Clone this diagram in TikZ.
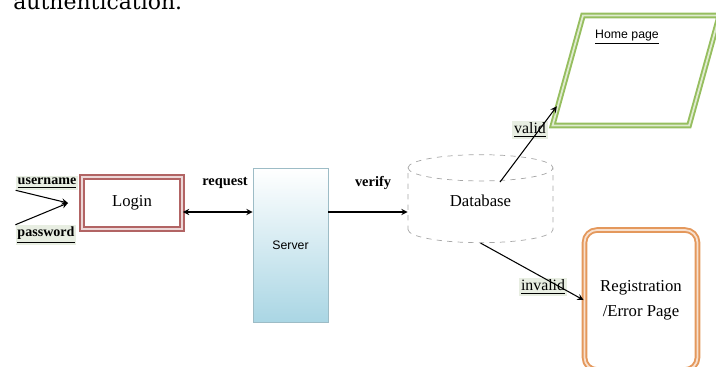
\documentclass[tikz,border=0pt]{standalone}
\usepackage{fontspec}
\setmainfont{Liberation Serif}
\newfontfamily\labelsans{Liberation Sans}
\newfontfamily\pageserif{DejaVu Serif}
\usepackage{tikz}
\usetikzlibrary{shapes.geometric, arrows}
\usetikzlibrary{calc}
\definecolor{loginred}{RGB}{178,100,100}
\definecolor{homegreen}{RGB}{150,190,95}
\definecolor{errorange}{RGB}{228,152,92}
\definecolor{serverblue}{RGB}{170,214,228}
\definecolor{labshade}{RGB}{232,238,226}
\tikzstyle{arrow} = [->,>=stealth,line width=0.6pt]
\tikzstyle{twoway} = [<->,>=stealth,line width=0.6pt]
\tikzstyle{inlabel} = [font=\fontsize{8}{9}\selectfont\bfseries, fill=labshade, inner sep=1pt]
\tikzstyle{flowlabel} = [font=\fontsize{8.2}{9}\selectfont\bfseries, inner sep=1pt]
\tikzstyle{resultlabel} = [font=\fontsize{9}{10}\selectfont, fill=labshade, inner sep=1pt]
\tikzstyle{loginbox} = [rectangle, draw=loginred, line width=1.1pt, double=loginred!25, double distance=1pt, minimum width=2.0cm, minimum height=1.04cm, font=\fontsize{9.5}{11}\selectfont]
\tikzstyle{serverbox} = [rectangle, draw=serverblue!70!gray, top color=white, bottom color=serverblue, minimum width=1.5cm, minimum height=3.08cm, font=\labelsans\fontsize{7}{8}\selectfont]
\tikzstyle{database} = [cylinder, shape border rotate=90, aspect=0.36, draw=gray!70, dashed, minimum width=2.9cm, minimum height=1.76cm, font=\fontsize{9.5}{11}\selectfont]
\tikzstyle{homebox} = [trapezium, trapezium left angle=74, trapezium right angle=106, trapezium stretches=true, draw=homegreen, line width=1.1pt, double=homegreen!30, double distance=1pt, minimum width=3.34cm, minimum height=2.2cm]
\tikzstyle{errorbox} = [rectangle, rounded corners=0.25cm, draw=errorange, line width=1.1pt, double=errorange!30, double distance=1pt, minimum width=2.26cm, minimum height=2.8cm, align=center, font=\fontsize{9.5}{14}\selectfont]

\begin{document}
\begin{tikzpicture}[x=0.02cm, y=-0.02cm]
    \path[use as bounding box, clip] (0,0) rectangle (716,366);
    % tail of the sentence above the figure
    \node[font=\pageserif\fontsize{12.5}{14}\selectfont, anchor=base west, inner sep=0pt] (caption) at (13,9) {authentication.};

    \node[loginbox] (login) at (132,203) {Login};
    \node[serverbox] (server) at (290.5,245) {Server};
    \node[database] (db) at (480.5,208) {\raisebox{8pt}{Database}};
    \node[homebox] (home) at (636,70.5) {};
    \node[font=\labelsans\fontsize{7}{8}\selectfont] (homelbl) at (627,37) {\underline{Home page}};
    \node[errorbox] (err) at (641,300) {Registration\\/Error Page};

    \node[inlabel] (user) at (47,183) {\underline{username}};
    \node[inlabel] (pass) at (46,235) {\underline{password}};
    \coordinate (inpt) at (68,203);
    \draw[arrow] (user.south west) -- (inpt);
    \draw[arrow] (pass.north west) -- (inpt);

    \node[flowlabel] (req) at (225,183) {request};
    \node[flowlabel] (ver) at (373,183) {verify};
    \draw[twoway] (login.-10) -- (login.-10 -| server.west);
    \draw[arrow] (login.-10 -| server.east) -- (login.-10 -| db.west);

    \node[resultlabel] (validlbl) at (530,130) {\underline{valid}};
    \node[resultlabel] (invalidlbl) at (543,287) {\underline{invalid}};
    \draw[arrow, shorten <=0.65cm] (db.center) -- ($(home.bottom left corner)!0.18!(home.top left corner)$);
    \draw[arrow] (db.south) -- (err.west);
\end{tikzpicture}
\end{document}
